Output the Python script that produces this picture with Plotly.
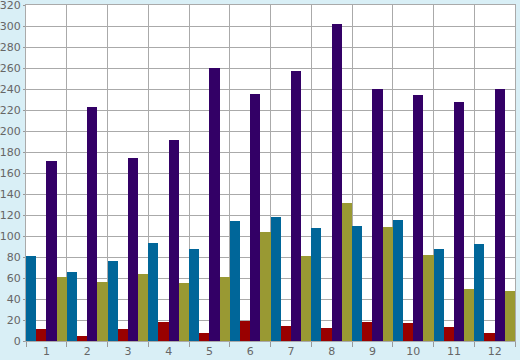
import plotly.graph_objects as go

categories = [str(i) for i in range(1, 13)]
blue = [81, 66, 76, 93, 88, 114, 118, 108, 110, 115, 88, 92]
red = [11, 5, 11, 18, 8, 19, 14, 12, 18, 17, 13, 8]
purple = [171, 223, 174, 191, 260, 235, 257, 302, 240, 234, 228, 240]
olive = [61, 56, 64, 55, 61, 104, 81, 131, 109, 82, 50, 48]
y_ticks = list(range(0, 321, 20))

series = [
    ("Series A", blue, "#006699"),
    ("Series B", red, "#990000"),
    ("Series C", purple, "#330066"),
    ("Series D", olive, "#999933"),
]

fig = go.Figure()
for name, vals, col in series:
    fig.add_trace(go.Bar(x=categories, y=vals, name=name, marker_color=col,
                         marker_line_width=0))

fig.update_layout(
    width=520, height=360,
    margin=dict(l=26, r=5, t=5, b=19, autoexpand=False),
    paper_bgcolor="#d9eff6",
    plot_bgcolor="#ffffff",
    barmode="group", bargap=0, bargroupgap=0,
    showlegend=False,
    font=dict(family="DejaVu Sans", size=11, color="#666666"),
    xaxis=dict(type="category", tickson="boundaries", showgrid=True,
               automargin=False, ticklabeloverflow="allow",
               gridcolor="#aaaaaa", gridwidth=1, ticks="outside", ticklen=5,
               tickcolor="#999999", showline=True, linecolor="#aaaaaa",
               mirror=True, tickfont=dict(size=11, color="#666666"),
               ticklabelstandoff=0),
    yaxis=dict(range=[0, 320], tickvals=y_ticks, showgrid=True,
               automargin=False, ticklabeloverflow="allow",
               gridcolor="#aaaaaa", gridwidth=1, ticks="outside", ticklen=2,
               tickcolor="#999999", showline=True, linecolor="#aaaaaa",
               mirror=True, zeroline=False,
               tickfont=dict(size=11, color="#666666"), ticklabelstandoff=0),
)

fig.write_html("out.html", config={"displayModeBar": False},
               post_script="document.body.style.margin='0';document.body.style.overflow='hidden';")
